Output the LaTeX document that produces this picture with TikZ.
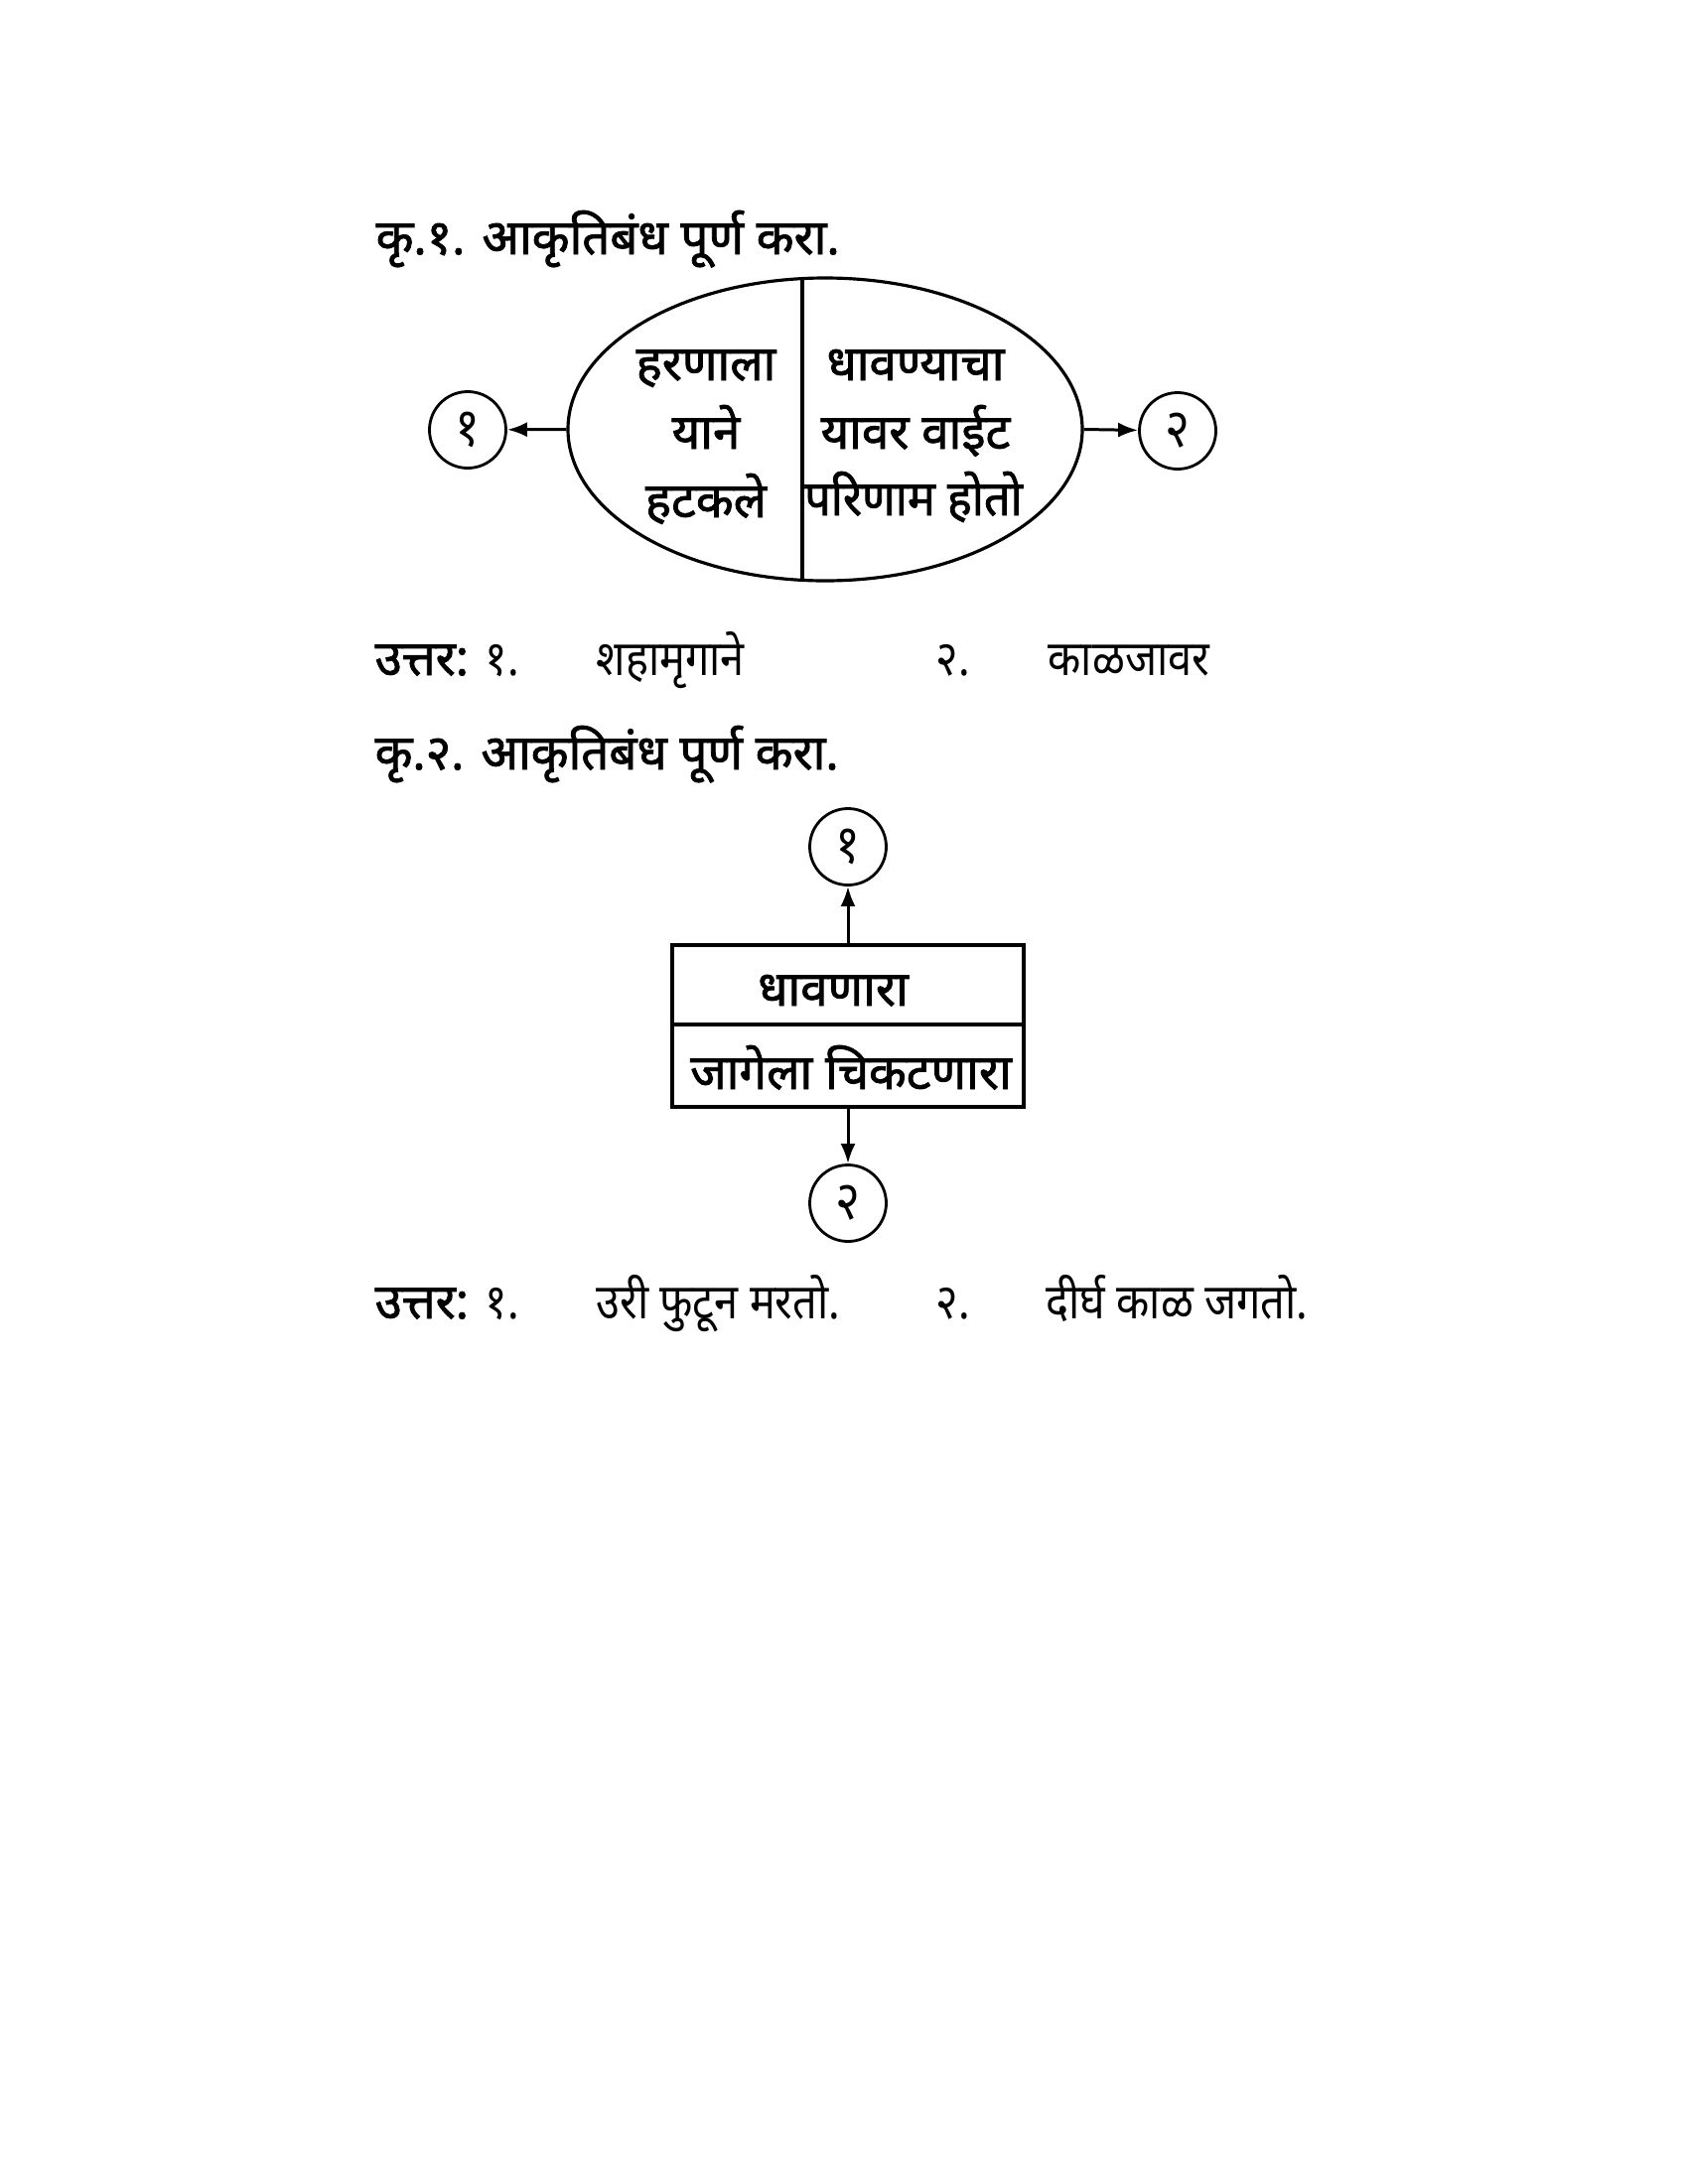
\documentclass[tikz,border=0pt]{standalone}
\usepackage{fontspec}
\newfontfamily\dev[Script=Devanagari,FakeStretch=0.88]{Noto Sans}
\newfontfamily\devb[Script=Devanagari,FakeBold=1.6]{Noto Sans}
\newfontfamily\devbn[Script=Devanagari,FakeBold=1.6,FakeStretch=0.95]{Noto Sans}
\usetikzlibrary{shapes.geometric,arrows.meta}
\begin{document}
\begin{tikzpicture}[x=0.1mm,y=-0.1mm,
  txt/.style={inner sep=0pt,font=\dev\fontsize{14}{16}\selectfont},
  btxt/.style={inner sep=0pt,font=\devb\fontsize{14}{16}\selectfont},
  bntxt/.style={inner sep=0pt,font=\devbn\fontsize{14}{16}\selectfont},
  ttl/.style={inner sep=0pt,anchor=base west,font=\devb\fontsize{14}{16}\selectfont},
  circ/.style={draw,circle,line width=0.8pt,minimum size=7.7mm,inner sep=0pt,font=\dev\fontsize{15.5}{17}\selectfont},
  ell/.style={draw,ellipse,line width=0.9pt,minimum width=51.8mm,minimum height=30.5mm,inner sep=0pt},
  boxr/.style={draw,rectangle,line width=1pt,minimum width=35.4mm,inner sep=0pt},
  arr/.style={line width=0.85pt,-{Latex[length=2mm,width=1.5mm]}}]
\useasboundingbox[fill=white] (0,0) rectangle (1700,2200);

% ---------- Question 1 ----------
\node[ttl] (t1) at (378,256) {कृ.१. आकृतिबंध पूर्ण करा.};

\node[ell] (e) at (831,432.5) {};
\coordinate (dtop) at (808,280.6);
\coordinate (dbot) at (808,584.4);
\draw[line width=0.9pt] (dtop) -- (dbot);

\node[btxt,anchor=base] (l1) at (711,383) {हरणाला};
\node[btxt,anchor=base] (l2) at (711,452) {याने};
\node[btxt,anchor=base] (l3) at (711,521) {हटकले};
\node[btxt,anchor=base] (r1) at (922,383) {धावण्याचा};
\node[btxt,anchor=base] (r2) at (922,452) {यावर वाईट};
\node[bntxt,anchor=base] (r3) at (920,519) {परिणाम होतो};

\node[circ] (c1) at (471,433) {१};
\node[circ] (c2) at (1186,434) {२};
\draw[arr] (e.west) -- (c1);
\draw[arr] (e.east) -- (c2);

% answer 1
\node[btxt,anchor=base west] (a1) at (377,680) {उत्तर:};
\node[txt,anchor=base west] (a1n1) at (488,680) {१.};
\node[txt,anchor=base west] (a1t1) at (600,680) {शहामृगाने};
\node[txt,anchor=base west] (a1n2) at (942,680) {२.};
\node[txt,anchor=base west] (a1t2) at (1055,680) {काळजावर};

% ---------- Question 2 ----------
\node[ttl] (t2) at (377,775) {कृ.२. आकृतिबंध पूर्ण करा.};

\node[circ] (d1) at (854,853) {१};
\node[boxr,minimum height=8mm,anchor=north] (b1) at (854,950) {};
\node[boxr,minimum height=8.3mm,anchor=north] (b2) at (854,1030) {};
\node[circ] (d2) at (854,1212) {२};
\draw[arr] (b1.north) -- (d1);
\draw[arr] (b2.south) -- (d2);

\node[btxt,anchor=base] (bt1) at (839,1013) {धावणारा};
\node[btxt,anchor=base] (bt2) at (857,1097) {जागेला चिकटणारा};

% answer 2
\node[btxt,anchor=base west] (a2) at (377,1328) {उत्तर:};
\node[txt,anchor=base west] (a2n1) at (488,1328) {१.};
\node[txt,anchor=base west] (a2t1) at (600,1328) {उरी फुटून मरतो.};
\node[txt,anchor=base west] (a2n2) at (942,1328) {२.};
\node[txt,anchor=base west] (a2t2) at (1053,1328) {दीर्घ काळ जगतो.};
\end{tikzpicture}
\end{document}
